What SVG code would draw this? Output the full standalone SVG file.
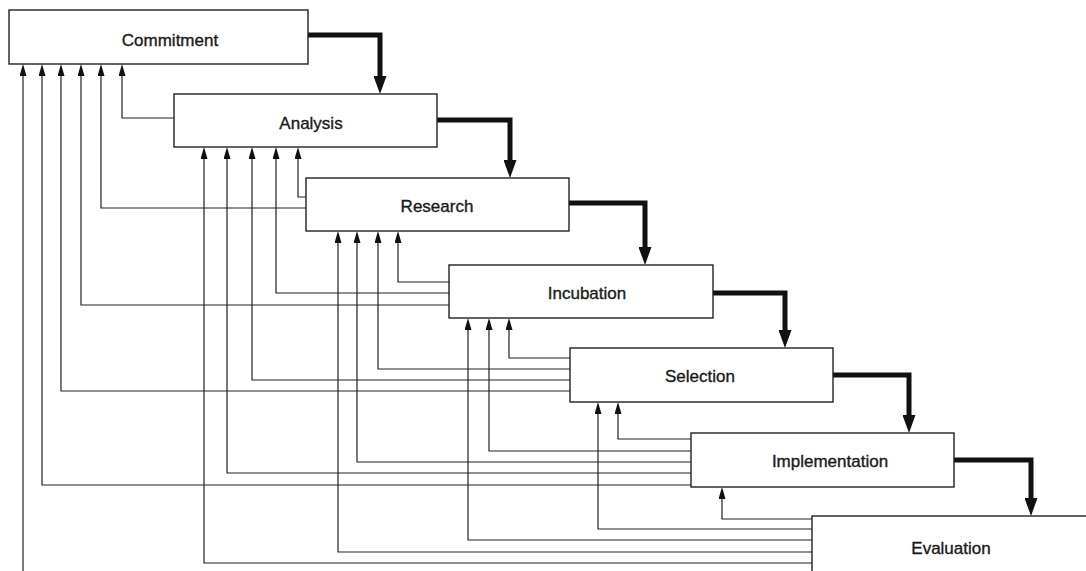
<svg xmlns="http://www.w3.org/2000/svg" width="1086" height="571" viewBox="0 0 1086 571">
<style>
.box{fill:#fff;stroke:#222;stroke-width:1.4}
.lbl{font-family:"Liberation Sans",Arial,sans-serif;font-size:17px;fill:#1a1a1a;stroke:#1a1a1a;stroke-width:0.35;text-anchor:middle}
.fb{fill:none;stroke:#222;stroke-width:1.2;marker-end:url(#thin)}
.main{fill:none;stroke:#111;stroke-width:5;stroke-linejoin:miter;marker-end:url(#thick)}
</style>
<defs>
<marker id="thin" markerUnits="userSpaceOnUse" markerWidth="12" markerHeight="7" refX="6" refY="3.5" orient="auto" viewBox="0 0 12 7">
<path d="M0,0 L12,3.5 L0,7 z" fill="#111"/>
</marker>
<marker id="thick" markerUnits="userSpaceOnUse" markerWidth="18" markerHeight="13" refX="8" refY="6.5" orient="auto" viewBox="0 0 18 13">
<path d="M0,0 L18,6.5 L0,13 z" fill="#111"/>
</marker>
</defs>
<rect width="1086" height="571" fill="#fff"/>
<g id="connectors">
<path class="fb" d="M174,118 H122 V70"/>
<path class="fb" d="M306,208 H101 V70"/>
<path class="fb" d="M449,305 H81 V70"/>
<path class="fb" d="M570,391 H61 V70"/>
<path class="fb" d="M691,485 H42 V70"/>
<path class="fb" d="M812,576 H23 V70"/>
<path class="fb" d="M306,197 H298 V153"/>
<path class="fb" d="M449,293 H276 V153"/>
<path class="fb" d="M570,380 H252 V153"/>
<path class="fb" d="M691,473 H227 V153"/>
<path class="fb" d="M812,563 H204 V153"/>
<path class="fb" d="M449,282 H398 V237"/>
<path class="fb" d="M570,369 H378 V237"/>
<path class="fb" d="M691,462 H357 V237"/>
<path class="fb" d="M812,552 H338 V237"/>
<path class="fb" d="M570,358 H509 V324"/>
<path class="fb" d="M691,451 H489 V324"/>
<path class="fb" d="M812,540 H468 V324"/>
<path class="fb" d="M691,439 H618 V408"/>
<path class="fb" d="M812,529 H598 V408"/>
<path class="fb" d="M812,519 H722 V493"/>
<path class="main" d="M308,35 H380 V84"/>
<path class="main" d="M437,120 H510 V168"/>
<path class="main" d="M569,203 H645 V255"/>
<path class="main" d="M713,293 H785 V338"/>
<path class="main" d="M833,375 H909 V423"/>
<path class="main" d="M954,460 H1031 V506"/>
</g>
<g id="commitment"><rect class="box" x="9" y="10" width="299" height="54"/><text class="lbl" x="170" y="46">Commitment</text></g>
<g id="analysis"><rect class="box" x="174" y="94" width="263" height="53"/><text class="lbl" x="311" y="129">Analysis</text></g>
<g id="research"><rect class="box" x="306" y="178" width="263" height="53"/><text class="lbl" x="437" y="212">Research</text></g>
<g id="incubation"><rect class="box" x="449" y="265" width="264" height="53"/><text class="lbl" x="587" y="299">Incubation</text></g>
<g id="selection"><rect class="box" x="570" y="348" width="263" height="54"/><text class="lbl" x="700" y="382">Selection</text></g>
<g id="implementation"><rect class="box" x="691" y="433" width="263" height="54"/><text class="lbl" x="830" y="467">Implementation</text></g>
<g id="evaluation"><rect class="box" x="812" y="516" width="300" height="80"/><text class="lbl" x="951" y="554">Evaluation</text></g>
</svg>
